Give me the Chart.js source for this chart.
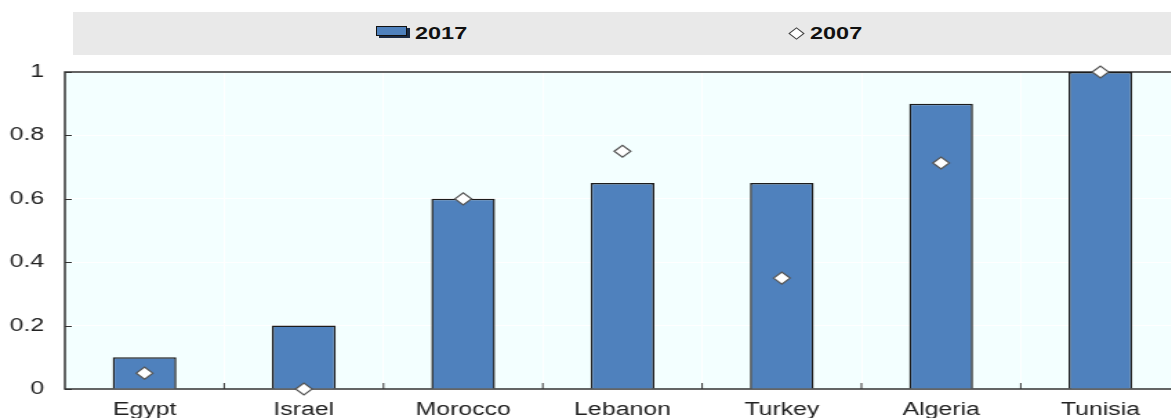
<!DOCTYPE html>
<html>
<head>
<meta charset="utf-8">
<script src="https://cdn.jsdelivr.net/npm/chart.js@4/dist/chart.umd.min.js"></script>
<style>
  html, body { margin: 0; padding: 0; background: #fff; width: 1171px; height: 418px; overflow: hidden; }
  #c { position: absolute; left: 0; top: 0; }
  #legend { position: absolute; left: 73px; top: 12px; width: 1100px; height: 43px; background: #e9e9e9;
    font-family: "Liberation Sans", Arial, sans-serif; font-weight: bold; font-size: 17px; color: #111; }
  .txt { position: absolute; top: 12px; line-height: 19px; transform: scaleX(1.38); transform-origin: 0 50%; }
  .barIcon { position: absolute; top: 14px; width: 29px; height: 8px; background: #4f81bd; border: 1.5px solid #111; box-shadow: 3px 2px 0 #1a2a44; }
  .dia { position: absolute; top: 17px; width: 7px; height: 7px; background: #fff; border: 1.3px solid #444; transform: scaleX(1.3) rotate(45deg); }
</style>
</head>
<body>
<div id="legend">
  <span class="barIcon" style="left:303px;"></span><span class="txt" style="left:342px;">2017</span>
  <span class="dia" style="left:719px;"></span><span class="txt" style="left:737px;">2007</span>
</div>
<canvas id="c" width="862" height="432" style="width:1190px;height:432px;"></canvas>
<script>
const categories = ["Egypt", "Israel", "Morocco", "Lebanon", "Turkey", "Algeria", "Tunisia"];
const values2017 = [0.10, 0.20, 0.60, 0.65, 0.65, 0.90, 1.00];
const values2007 = [0.05, 0.00, 0.60, 0.75, 0.35, 0.713, 1.00];
const yTicks = [0, 0.2, 0.4, 0.6, 0.8, 1];

const framePlugin = {
  id: 'frame',
  beforeDraw(chart) {
    const { ctx, chartArea: a } = chart;
    ctx.save();
    ctx.fillStyle = '#f3ffff';
    ctx.fillRect(a.left, a.top, a.right - a.left, a.bottom - a.top);
    ctx.restore();
  },
  beforeDatasetsDraw(chart) {
    const { ctx, chartArea: a, scales } = chart;
    const x = scales.x, y = scales.y;
    ctx.save();
    ctx.strokeStyle = '#333';
    ctx.lineWidth = 1;
    yTicks.forEach(v => {
      const py = Math.round(y.getPixelForValue(v)) + 0.5;
      ctx.beginPath(); ctx.moveTo(a.left, py); ctx.lineTo(a.left + 5, py); ctx.stroke();
    });
    for (let i = 0; i < categories.length - 1; i++) {
      const px = (x.getPixelForValue(i) + x.getPixelForValue(i + 1)) / 2;
      ctx.beginPath(); ctx.moveTo(px, a.bottom); ctx.lineTo(px, a.bottom - 6); ctx.stroke();
    }
    ctx.strokeStyle = '#333';
    ctx.lineWidth = 1.5;
    ctx.beginPath();
    ctx.moveTo(a.right, a.top); ctx.lineTo(a.left, a.top); ctx.lineTo(a.left, a.bottom); ctx.lineTo(a.right, a.bottom);
    ctx.stroke();
    ctx.restore();
  }
};

new Chart(document.getElementById('c'), {
  type: 'bar',
  data: {
    labels: categories,
    datasets: [
      {
        type: 'line', label: '2007', data: values2007, order: 0,
        showLine: false, pointStyle: 'rectRot', pointRadius: 6, pointHoverRadius: 6,
        pointBackgroundColor: '#ffffff', pointBorderColor: '#555555', pointBorderWidth: 1.2, clip: false
      },
      {
        label: '2017', data: values2017, order: 1,
        backgroundColor: '#4f81bd', borderColor: '#1c1c1c', borderWidth: 1.5,
        barPercentage: 0.4, categoryPercentage: 1.0
      }
    ]
  },
  options: {
    responsive: false, animation: false, devicePixelRatio: 1,
    layout: { padding: { top: 72, right: 4, left: 0, bottom: 0 } },
    plugins: { legend: { display: false }, tooltip: { enabled: false } },
    scales: {
      x: {
        offset: true,
        afterFit(s) { s.height = 43; },
        grid: { offset: true, color: '#ffffff', lineWidth: 1, drawTicks: false },
        border: { display: false },
        ticks: { color: '#222', font: { family: 'Liberation Sans, Arial, sans-serif', size: 18 }, padding: 10, maxRotation: 0 }
      },
      y: {
        min: 0, max: 1,
        afterFit(s) { s.width = 47; },
        afterBuildTicks(s) { s.ticks = yTicks.map(v => ({ value: v })); },
        grid: { color: '#ffffff', lineWidth: 1, drawTicks: false },
        border: { display: false },
        ticks: { color: '#222', font: { family: 'Liberation Sans, Arial, sans-serif', size: 18 }, padding: 15,
          callback: v => String(v) }
      }
    }
  },
  plugins: [framePlugin]
});
</script>
</body>
</html>
